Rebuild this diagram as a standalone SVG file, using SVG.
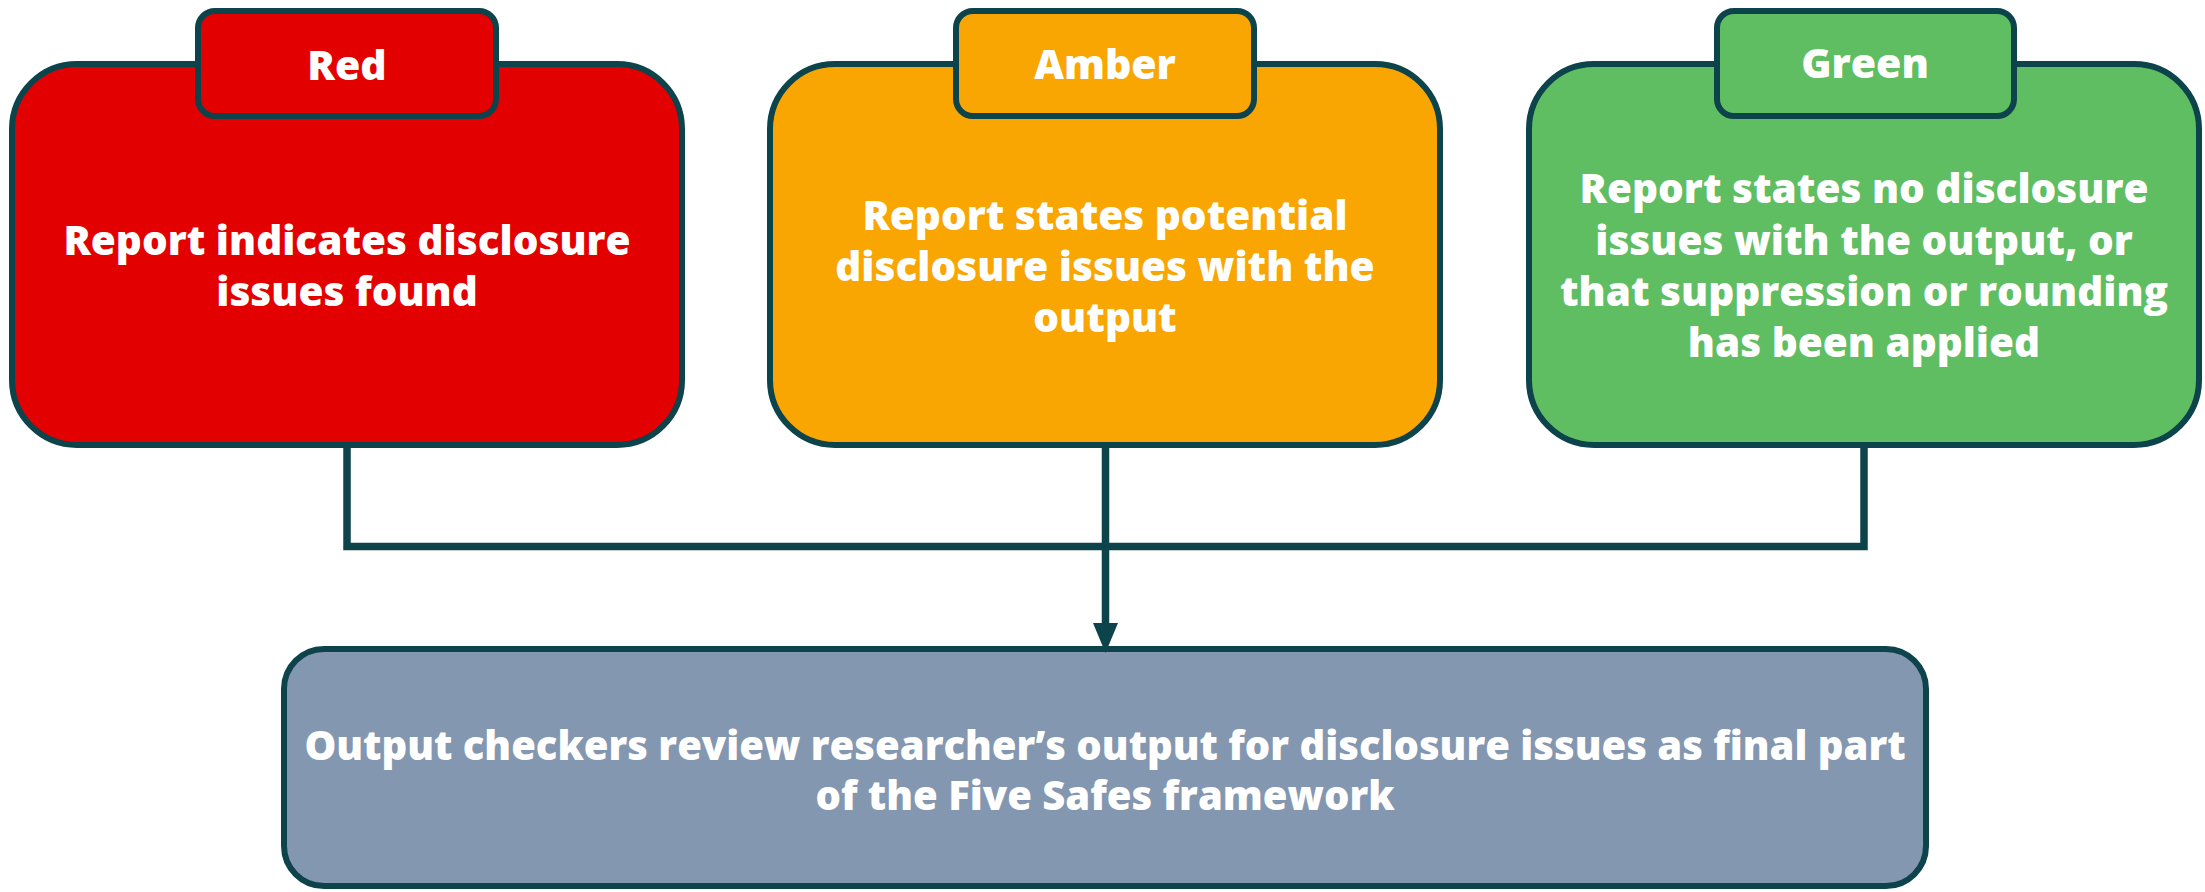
<svg xmlns="http://www.w3.org/2000/svg" width="2205" height="892" viewBox="0 0 2205 892">
<style>
.box{stroke:#0d434a;stroke-width:6}
.red{fill:#e30000}
.amber{fill:#f9a603}
.green{fill:#5fbd62}
.slate{fill:#8497b0}
.t{font-family:"Open Sans",Lato,"Liberation Sans",sans-serif;font-weight:800;font-size:40.5px;fill:#ffffff;text-anchor:middle}
.h{font-size:41px}
.b{font-size:40px}
.conn{fill:none;stroke:#0d434a;stroke-width:7.5}
</style>
<rect width="2205" height="892" fill="#ffffff"/>
<g id="red">
<rect class="box red" x="12" y="64" width="670" height="381" rx="65" ry="65"/>
<rect class="box red" x="198" y="11" width="298" height="105" rx="17" ry="17"/>
<text class="t h" x="347" y="80">Red</text>
<text class="t" x="347" y="255">Report indicates disclosure</text>
<text class="t" x="347" y="306">issues found</text>
</g>
<g id="amber">
<rect class="box amber" x="770" y="64" width="670" height="381" rx="65" ry="65"/>
<rect class="box amber" x="956" y="11" width="298" height="105" rx="17" ry="17"/>
<text class="t h" x="1105" y="79">Amber</text>
<text class="t" x="1105" y="230">Report states potential</text>
<text class="t" x="1105" y="281">disclosure issues with the</text>
<text class="t" x="1105" y="332">output</text>
</g>
<g id="green">
<rect class="box green" x="1529" y="64" width="670" height="381" rx="65" ry="65"/>
<rect class="box green" x="1717" y="11" width="297" height="105" rx="17" ry="17"/>
<text class="t h" x="1865" y="78">Green</text>
<text class="t" x="1864" y="203">Report states no disclosure</text>
<text class="t" x="1864" y="255">issues with the output, or</text>
<text class="t" x="1864" y="306">that suppression or rounding</text>
<text class="t" x="1864" y="357">has been applied</text>
</g>
<g id="output">
<rect class="box slate" x="284" y="649" width="1642" height="237" rx="40" ry="40"/>
<text class="t b" x="1105" y="760">Output checkers review researcher’s output for disclosure issues as final part</text>
<text class="t b" x="1105" y="810">of the Five Safes framework</text>
</g>
<g id="connectors">
<path class="conn" d="M347,448 V546.5 H1864 V448"/>
<path class="conn" d="M1105.5,448 V626"/>
<polygon points="1093,623 1118,623 1105.5,653" fill="#0d434a"/>
</g>
</svg>
